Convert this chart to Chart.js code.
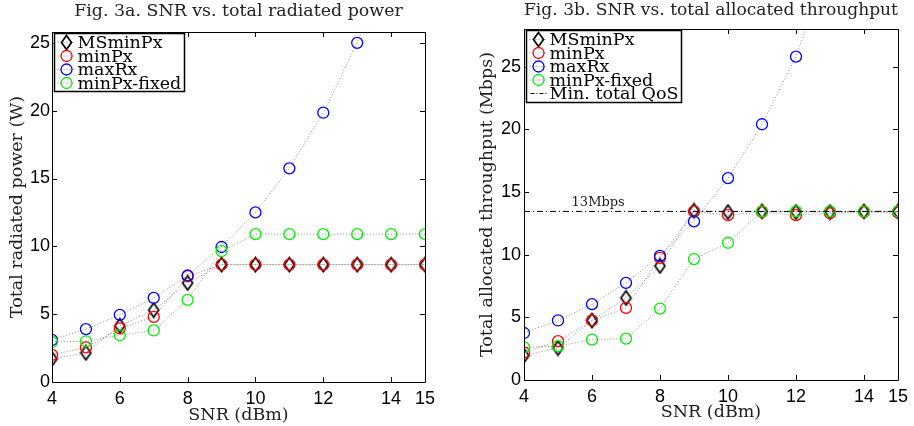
<!DOCTYPE html>
<html>
  <head>
    <meta charset="utf-8">
    <title>Fig. 3 SNR</title>
    <style>
      body { margin: 0; background: #fff; overflow: hidden; }
      .box { position: absolute; top: 0; }
    </style>
    <script src="https://cdn.jsdelivr.net/npm/chart.js@4.4.1/dist/chart.umd.min.js"></script>
  </head>
  <body>
    <div class="box" style="left:0px"><canvas id="chart0" width="457" height="426"></canvas></div>
    <div class="box" style="left:457px"><canvas id="chart1" width="457" height="426"></canvas></div>
    <script type="text/javascript">
      // x values (SNR in dBm) and tick labels
      var snr = [4, 5, 6, 7, 8, 9, 10, 11, 12, 13, 14, 15];
      var xTicks = [4, 6, 8, 10, 12, 14, 15];
      var yTicks = [0, 5, 10, 15, 20, 25];
      var labels = ['MSminPx', 'minPx', 'maxRx', 'minPx-fixed'];
      var qosLabel = 'Min. total QoS';
      var qosText = '13Mbps';

      // Fig 3a - total radiated power (W)
      var powMS  = [1.7, 2.15, 4.15, 5.3, 7.3, 8.65, 8.65, 8.65, 8.65, 8.65, 8.65, 8.65];
      var powMin = [2.0, 2.55, 3.95, 4.8, 7.8, 8.65, 8.65, 8.65, 8.65, 8.65, 8.65, 8.65];
      var powMax = [3.1, 3.9, 4.95, 6.2, 7.85, 9.95, 12.5, 15.75, 19.85, 25.0, 31.5, null];
      var powFix = [2.95, 3.0, 3.45, 3.8, 6.05, 9.65, 10.9, 10.9, 10.9, 10.9, 10.9, 10.9];

      // Fig 3b - total allocated throughput (Mbps)
      var thrMS  = [1.95, 2.55, 4.75, 6.55, 9.1, 13.5, 13.4, 13.45, 13.4, 13.4, 13.45, 13.45];
      var thrMin = [2.2, 3.1, 4.75, 5.75, 9.75, 13.45, 13.15, 13.4, 13.15, 13.3, 13.4, 13.35];
      var thrMax = [3.75, 4.75, 6.05, 7.75, 9.9, 12.65, 16.1, 20.4, 25.8, 33.4, null, null];
      var thrFix = [2.6, 2.7, 3.22, 3.3, 5.7, 9.65, 10.95, 13.45, 13.45, 13.45, 13.45, 13.45];
      var qos = 13.45;

      var colors = ['#000000', '#ff0000', '#0000ff', '#00ee00'];
      var serif = 'DejaVu Serif';
      var sans = 'Liberation Sans';
      var titleSize = 17.4;

      // hollow tall diamond, like matlab's 'd' marker
      var diamond = document.createElement('canvas');
      diamond.width = 13; diamond.height = 17;
      var dctx = diamond.getContext('2d');
      dctx.strokeStyle = '#000'; dctx.lineWidth = 1.7;
      dctx.beginPath();
      dctx.moveTo(6.5, 1.5); dctx.lineTo(11.5, 8.5); dctx.lineTo(6.5, 15.5); dctx.lineTo(1.5, 8.5);
      dctx.closePath(); dctx.stroke();

      function series(label, vals, i) {
        return {
          label: label,
          data: snr.map(function (x, k) { return {x: x, y: vals[k]}; }),
          borderColor: 'rgba(0,0,0,0.45)',
          borderWidth: 1,
          borderDash: [1, 2],
          pointStyle: i === 0 ? diamond : 'circle',
          pointRadius: 5.5,
          pointBorderWidth: 1.3,
          pointBorderColor: colors[i],
          pointBackgroundColor: 'rgba(0,0,0,0)',
          order: 4 - i
        };
      }

      // box frame with inward ticks on all four sides
      var framePlugin = {
        id: 'frame',
        afterDatasetsDraw: function (chart) {
          var ctx = chart.ctx, a = chart.chartArea;
          var xs = chart.scales.x, ys = chart.scales.y;
          ctx.save();
          ctx.strokeStyle = '#000';
          ctx.lineWidth = 1;
          ctx.beginPath();
          ctx.rect(Math.round(a.left) + 0.5, Math.round(a.top) + 0.5, Math.round(a.width), Math.round(a.height));
          xs.ticks.forEach(function (t) {
            var px = Math.round(xs.getPixelForValue(t.value)) + 0.5;
            ctx.moveTo(px, a.bottom); ctx.lineTo(px, a.bottom - 5);
            ctx.moveTo(px, a.top); ctx.lineTo(px, a.top + 5);
          });
          ys.ticks.forEach(function (t) {
            var py = Math.round(ys.getPixelForValue(t.value)) + 0.5;
            ctx.moveTo(a.left, py); ctx.lineTo(a.left + 5, py);
            ctx.moveTo(a.right, py); ctx.lineTo(a.right - 5, py);
          });
          ctx.stroke();
          ctx.restore();
        }
      };

      // matlab style legend box in the upper left corner
      var legendPlugin = {
        id: 'boxLegend',
        afterDraw: function (chart) {
          var ctx = chart.ctx, a = chart.chartArea;
          var sets = chart.data.datasets;
          var rowH = 13.5, x0 = a.left + 2.5, y0 = a.top + 1.5;
          ctx.save();
          ctx.font = '17.5px "' + serif + '"';
          var w = 0;
          sets.forEach(function (d) { w = Math.max(w, ctx.measureText(d.label).width); });
          var boxW = Math.round(w + 26), boxH = Math.round(sets.length * rowH + 4);
          ctx.fillStyle = '#fff';
          ctx.fillRect(x0, y0, boxW, boxH);
          ctx.strokeStyle = '#000'; ctx.lineWidth = 1.5;
          ctx.strokeRect(x0, y0, boxW, boxH);
          sets.forEach(function (d, i) {
            var cy = y0 + 9 + i * rowH;
            ctx.beginPath();
            ctx.lineWidth = 1;
            if (d.pointRadius === 0) {
              ctx.strokeStyle = '#000';
              ctx.setLineDash([4, 2, 1, 2]);
              ctx.moveTo(x0 + 4, cy); ctx.lineTo(x0 + 21, cy);
              ctx.stroke();
            } else {
              ctx.strokeStyle = d.borderColor;
              ctx.setLineDash([1, 2]);
              ctx.moveTo(x0 + 3, cy); ctx.lineTo(x0 + 21, cy);
              ctx.stroke();
              ctx.setLineDash([]);
              ctx.strokeStyle = d.pointBorderColor;
              ctx.fillStyle = 'rgba(0,0,0,0)';
              ctx.lineWidth = d.pointBorderWidth;
              Chart.helpers.drawPoint(ctx, {pointStyle: d.pointStyle, radius: d.pointRadius, rotation: 0, borderWidth: d.pointBorderWidth}, x0 + 12, cy);
            }
            ctx.setLineDash([]);
            ctx.fillStyle = '#000';
            ctx.textBaseline = 'middle';
            ctx.fillText(d.label, x0 + 23, cy + 1);
          });
          ctx.restore();
        }
      };

      // "13Mbps" note above the QoS line
      var qosNote = {
        id: 'qosNote',
        afterDatasetsDraw: function (chart) {
          if (!chart.options.plugins.qosNote) return;
          var ctx = chart.ctx;
          ctx.save();
          ctx.font = '13px "' + serif + '"';
          ctx.fillStyle = '#222';
          ctx.textBaseline = 'alphabetic';
          ctx.fillText(qosText, chart.scales.x.getPixelForValue(5.4), chart.scales.y.getPixelForValue(qos) - 5);
          ctx.restore();
        }
      };

      function makeChart(id, title, yTitle, datasets, yMax, lay) {
        return new Chart(document.getElementById(id).getContext('2d'), {
          type: 'line',
          data: {datasets: datasets},
          options: {
            responsive: false,
            animation: false,
            layout: {padding: {left: 0, right: lay.right, top: 0, bottom: 0}},
            plugins: {
              legend: {display: false},
              tooltip: {enabled: false},
              qosNote: lay.note,
              title: {
                display: true, text: title, fullSize: false, color: '#222',
                font: {family: serif, size: titleSize, weight: 'normal'},
                padding: {top: lay.titleTop, bottom: lay.top - titleSize * 1.2 - lay.titleTop}
              }
            },
            scales: {
              x: {
                type: 'linear', min: 4, max: 15,
                grid: {display: false, drawTicks: false}, border: {display: false},
                afterBuildTicks: function (s) { s.ticks = xTicks.map(function (v) { return {value: v}; }); },
                afterFit: function (s) { s.height = lay.bottom; },
                ticks: {color: '#000', padding: 6, font: {family: sans, size: 18}, callback: function (v) { return v; }},
                title: {display: true, text: 'SNR (dBm)', color: '#222', font: {family: serif, size: 17.5}, padding: {top: 0, bottom: lay.xTitle}}
              },
              y: {
                type: 'linear', min: 0, max: yMax,
                grid: {display: false, drawTicks: false}, border: {display: false},
                afterBuildTicks: function (s) { s.ticks = yTicks.map(function (v) { return {value: v}; }); },
                afterFit: function (s) { s.width = lay.left; },
                ticks: {color: '#000', padding: lay.yPad, font: {family: sans, size: 18}, callback: function (v) { return v; }},
                title: {display: true, text: yTitle, color: '#222', font: {family: serif, size: 17.5}, padding: {top: lay.yTitle, bottom: 0}}
              }
            }
          },
          plugins: [framePlugin, qosNote, legendPlugin]
        });
      }

      var chart0 = makeChart('chart0', 'Fig. 3a. SNR vs. total radiated power', 'Total radiated power (W)', [
        series(labels[0], powMS, 0),
        series(labels[1], powMin, 1),
        series(labels[2], powMax, 2),
        series(labels[3], powFix, 3)
      ], 25.8, {left: 52, right: 32, top: 32, bottom: 44, titleTop: 1.5, xTitle: 0, yTitle: 7, yPad: 2, note: false});

      var qosSet = {
        label: qosLabel,
        data: [{x: 4, y: qos}, {x: 15, y: qos}],
        borderColor: '#000', borderWidth: 1, borderDash: [6, 3, 1, 3],
        pointRadius: 0, order: 0
      };

      var chart1 = makeChart('chart1', 'Fig. 3b. SNR vs. total allocated throughput', 'Total allocated throughput (Mbps)', [
        series(labels[0], thrMS, 0),
        series(labels[1], thrMin, 1),
        series(labels[2], thrMax, 2),
        series(labels[3], thrFix, 3),
        qosSet
      ], 28, {left: 67, right: 12, top: 29, bottom: 46, titleTop: 0, xTitle: 3, yTitle: 20, yPad: 3, note: true});
    </script>
  </body>
</html>
